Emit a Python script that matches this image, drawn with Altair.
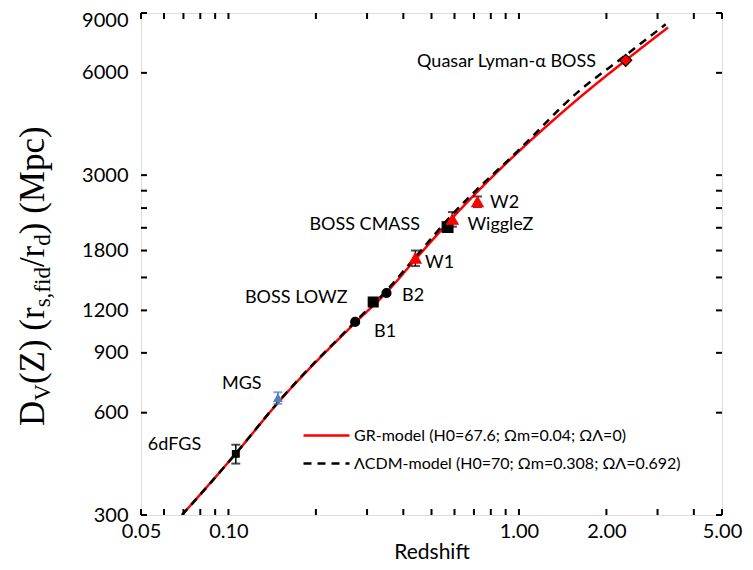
import altair as alt
import pandas as pd

# ---------------- data ----------------
# model curves (redshift, D_V)
gr_z = [0.0692, 0.106, 0.15, 0.275, 0.35, 0.44, 0.593, 1.58, 2.33, 3.26]
gr_dv = [300, 455, 650, 1110, 1355, 1695, 2255, 4990, 6530, 8160]
lcdm_z = [0.0692, 0.106, 0.15, 0.275, 0.35, 0.44, 0.593, 1.0, 1.58, 2.33, 3.2]
lcdm_dv = [300, 455, 652, 1118, 1372, 1722, 2310, 3560, 5230, 6760, 8340]
models = ["GR-model (H0=67.6; \u03a9m=0.04; \u03a9\u039b=0)",
          "\u039bCDM-model (H0=70; \u03a9m=0.308; \u03a9\u039b=0.692)"]

# measurements
surveys = ["6dFGS", "MGS", "B1", "BOSS LOWZ", "B2", "W1", "BOSS CMASS",
           "WiggleZ", "W2", "Quasar Lyman-\u03b1 BOSS"]
kinds = ["6dF", "MGS", "SDSS", "LOWZ", "SDSS", "WiggleZ", "CMASS",
         "WiggleZ", "WiggleZ", "Lya"]
obs_z = [0.106, 0.148, 0.273, 0.315, 0.35, 0.44, 0.568, 0.59, 0.72, 2.33]
obs_dv = [454, 663, 1110, 1270, 1350, 1710, 2110, 2226, 2506, 6530]
obs_err = [29, 26, 0, 20, 0, 90, 20, 110, 90, 0]

# annotation texts and their anchor (redshift, D_V)
label_text = ["6dFGS", "MGS", "BOSS LOWZ", "B1", "B2", "BOSS CMASS", "W1",
              "WiggleZ", "W2", "Quasar Lyman-\u03b1 BOSS"]
label_z = [0.0528, 0.095, 0.114, 0.317, 0.396, 0.19, 0.475, 0.665, 0.795, 0.446]
label_dv = [482, 729, 1305, 1036, 1323, 2141, 1652, 2141, 2480, 6460]

# axes
x_labels = [0.05, 0.1, 1, 2, 5]
x_ticks = [0.05, 0.06, 0.07, 0.08, 0.09, 0.1, 0.2, 0.3, 0.4, 0.5, 0.6, 0.7,
           0.8, 0.9, 1, 2, 3, 4, 5]
y_labels = [300, 600, 900, 1200, 1800, 3000, 6000, 9000]
y_ticks = [300, 600, 900, 1200, 1500, 1800, 2100, 2400, 2700, 3000, 6000, 9000]

# ---------------- styling ----------------
W, H = 581, 502
FONT = "Lato"
kind_dom = ["6dF", "MGS", "SDSS", "LOWZ", "CMASS", "WiggleZ", "Lya"]
kind_shape = ["square", "triangle-up", "circle", "square", "square", "triangle-up", "diamond"]
kind_fill = ["#000000", "#4F81BD", "#000000", "#000000", "#000000", "#FF0000", "#FF0000"]
kind_stroke = ["#000000", "#4F81BD", "#000000", "#000000", "#000000", "#FF0000", "#000000"]
kind_size = [45, 150, 60, 55, 90, 100, 70]

xs = alt.Scale(type="log", domain=[0.05, 5], nice=False)
ys = alt.Scale(type="log", domain=[300, 9000], nice=False)

lines_df = pd.concat([
    pd.DataFrame({"z": gr_z, "dv": gr_dv, "model": models[0], "o": range(len(gr_z))}),
    pd.DataFrame({"z": lcdm_z, "dv": lcdm_dv, "model": models[1], "o": range(len(lcdm_z))}),
])
obs_df = pd.DataFrame({"survey": surveys, "kind": kinds, "z": obs_z, "dv": obs_dv,
                       "err": obs_err})
obs_df["lo"] = obs_df["dv"] - obs_df["err"]
obs_df["hi"] = obs_df["dv"] + obs_df["err"]
lab_df = pd.DataFrame({"t": label_text, "z": label_z, "dv": label_dv})

legend = alt.Legend(title=None, orient="none", legendX=174, legendY=411,
                    symbolType="M-2.3,0H2.3", symbolSize=400, symbolStrokeWidth=2.5,
                    labelFont=FONT, labelFontSize=16, labelColor="black", labelLimit=0,
                    labelOffset=16, rowPadding=8, padding=0)

base_x = alt.X("z:Q", scale=xs,
               axis=alt.Axis(values=x_labels, format=".2f", ticks=False, domain=False,
                             grid=False, labelFont=FONT, labelFontSize=20,
                             labelColor="black", labelPadding=6, labelFlush=False,
                             labelOverlap=False, title="Redshift", titleFont=FONT,
                             titleFontSize=21, titleFontWeight="normal",
                             titleColor="black", titlePadding=0))
base_y = alt.Y("dv:Q", scale=ys,
               axis=alt.Axis(values=y_labels, format="d", ticks=False, domain=False,
                             grid=False, labelFont=FONT, labelFontSize=20,
                             labelColor="black", labelPadding=13, labelOverlap=False,
                             labelFlush=False, title=None,
                             labelOffset=alt.condition("datum.value == 9000",
                                                       alt.value(7), alt.value(0))))

lines = alt.Chart(lines_df).mark_line(strokeWidth=2.5, clip=True,
                                      interpolate="monotone").encode(
    x=base_x, y=base_y, order="o:Q",
    color=alt.Color("model:N", scale=alt.Scale(domain=models, range=["#FF0000", "#000000"]),
                    legend=legend),
    strokeDash=alt.StrokeDash("model:N", scale=alt.Scale(domain=models, range=[[1, 0], [8, 6]]),
                              legend=legend),
)


def errbars(filt, col):
    eb = alt.Chart(obs_df).transform_filter(filt)
    rule = eb.mark_rule(strokeWidth=1.5, color=col).encode(
        x=alt.X("z:Q", scale=xs), y=alt.Y("lo:Q", scale=ys), y2="hi:Q")
    lo = eb.mark_tick(orient="horizontal", size=9, thickness=2, color=col).encode(
        x=alt.X("z:Q", scale=xs), y=alt.Y("lo:Q", scale=ys))
    hi = eb.mark_tick(orient="horizontal", size=9, thickness=2, color=col).encode(
        x=alt.X("z:Q", scale=xs), y=alt.Y("hi:Q", scale=ys))
    return [rule, lo, hi]


err_layers = (errbars("datum.err > 0 && datum.kind != 'MGS'", "#000000")
              + errbars("datum.err > 0 && datum.kind == 'MGS'", "#4F81BD"))

points = alt.Chart(obs_df).mark_point(filled=True, strokeWidth=1.2, opacity=1).encode(
    x=alt.X("z:Q", scale=xs), y=alt.Y("dv:Q", scale=ys),
    shape=alt.Shape("kind:N", scale=alt.Scale(domain=kind_dom, range=kind_shape), legend=None),
    fill=alt.Fill("kind:N", scale=alt.Scale(domain=kind_dom, range=kind_fill), legend=None),
    stroke=alt.Stroke("kind:N", scale=alt.Scale(domain=kind_dom, range=kind_stroke), legend=None),
    size=alt.Size("kind:N", scale=alt.Scale(domain=kind_dom, range=kind_size), legend=None),
)

labels = alt.Chart(lab_df).mark_text(align="left", baseline="middle", font=FONT,
                                     fontSize=18, color="black").encode(
    x=alt.X("z:Q", scale=xs), y=alt.Y("dv:Q", scale=ys), text="t:N")

# inward tick marks on all four sides
xt_df = pd.DataFrame({"z": x_ticks})
yt_df = pd.DataFrame({"dv": y_ticks})
TL = 6
tick_b = alt.Chart(xt_df).mark_rule(strokeWidth=2, color="black").encode(
    x=alt.X("z:Q", scale=xs), y=alt.value(H - TL), y2=alt.value(H))
tick_t = alt.Chart(xt_df).mark_rule(strokeWidth=2, color="black").encode(
    x=alt.X("z:Q", scale=xs), y=alt.value(0), y2=alt.value(TL))
tick_l = alt.Chart(yt_df).mark_rule(strokeWidth=2, color="black").encode(
    y=alt.Y("dv:Q", scale=ys), x=alt.value(0), x2=alt.value(TL))
tick_r = alt.Chart(yt_df).mark_rule(strokeWidth=2, color="black").encode(
    y=alt.Y("dv:Q", scale=ys), x=alt.value(W - TL), x2=alt.value(W))

# y-axis title with subscripts, built from rotated text pieces (Times metrics)
tm = {"D": .722, "V": .722, "(": .333, ")": .333, "Z": .611, " ": .25, "r": .333,
      "s": .389, ",": .25, "f": .333, "i": .278, "d": .5, "/": .278, "M": .889,
      "p": .5, "c": .444}
BIG, SMALL = 35, 23
parts = [("D", BIG, 0), ("V", SMALL, 6), ("(Z) (r", BIG, 0), ("s,fid", SMALL, 6),
         ("/r", BIG, 0), ("d", SMALL, 6), (") (Mpc)", BIG, 0)]
title_layers = []
ypos = 413
for txt, fs, shift in parts:
    title_layers.append(
        alt.Chart(pd.DataFrame({"a": [0]})).mark_text(
            angle=270, align="left", baseline="alphabetic", font="Liberation Serif",
            fontSize=fs, color="black").encode(
            x=alt.value(-97 + shift), y=alt.value(ypos), text=alt.value(txt)))
    ypos -= sum(tm[ch] for ch in txt) * fs

chart = alt.layer(lines, *err_layers, points, labels,
                  tick_b, tick_t, tick_l, tick_r, *title_layers).properties(
    width=W, height=H,
    autosize=alt.AutoSizeParams(type="none"),
    padding={"left": 133, "top": 5, "right": 23, "bottom": 47},
).configure_view(stroke="black", strokeWidth=2.5).configure(background="white")

chart.save("out.html", embed_options={"renderer": "svg", "actions": False})
